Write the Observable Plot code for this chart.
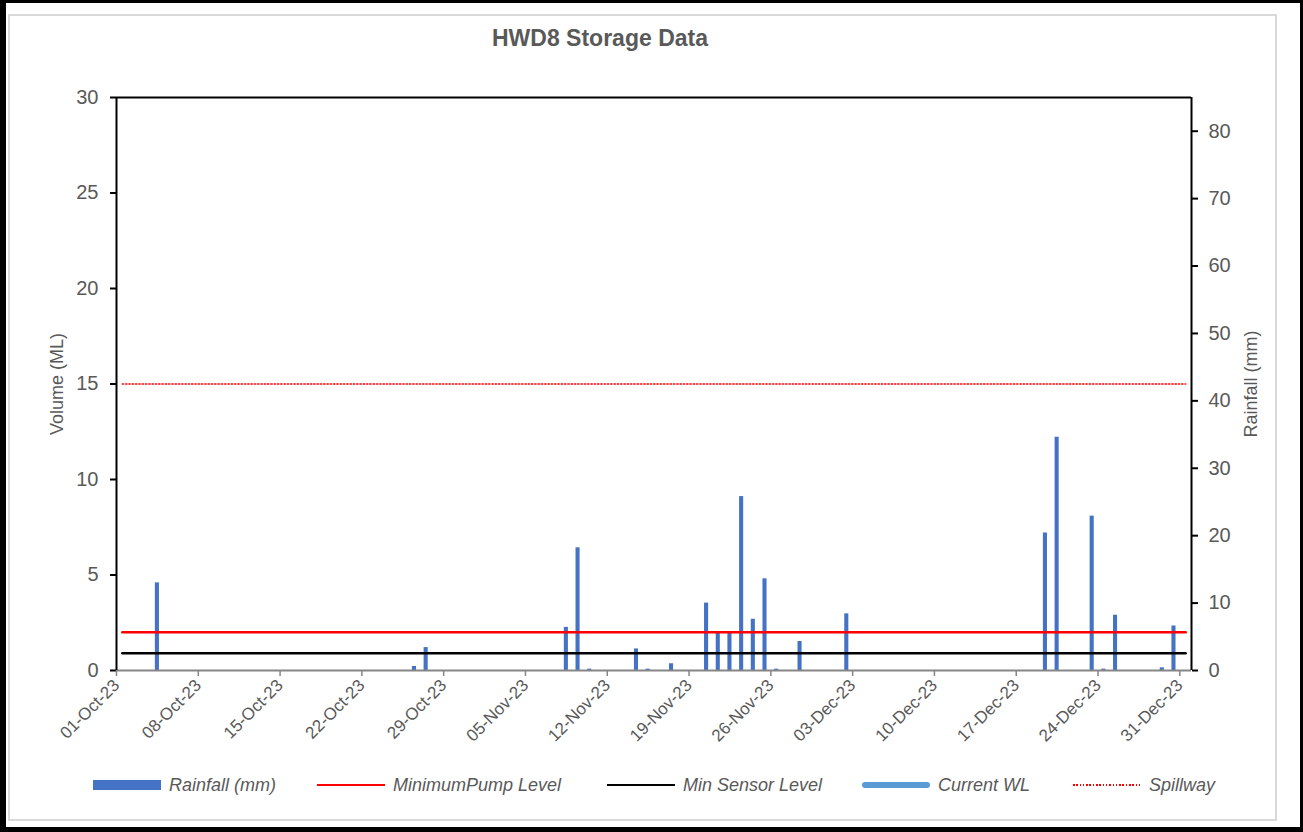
<!DOCTYPE html>
<html>
<head>
<meta charset="utf-8">
<script src="https://cdn.jsdelivr.net/npm/d3@7"></script>
<script src="https://cdn.jsdelivr.net/npm/@observablehq/plot@0.6"></script>
<style>
  html, body { margin: 0; padding: 0; background: #fff; }
  body { width: 1303px; height: 832px; position: relative; overflow: hidden; font-family: "Liberation Sans", Arial, sans-serif; }
  #outer { position: absolute; left: 0; top: 0; width: 1303px; height: 832px; box-sizing: border-box; border-style: solid; border-color: #000; border-width: 3px 3px 5px 6px; }
  #inner { position: absolute; left: 8px; top: 14px; width: 1269px; height: 807px; box-sizing: border-box; border: 2px solid #d9d9d9; }
  #chart { position: absolute; left: 0; top: 0; }
  #title { position: absolute; left: 0; top: 27px; width: 1200px; text-align: center; font-size: 23px; line-height: 23px; font-weight: bold; color: #595959; }
  .ytitle { position: absolute; font-size: 18px; line-height: 18px; color: #595959; white-space: nowrap; transform: translate(-50%, -50%) rotate(-90deg); }
  .leg { position: absolute; top: 776px; height: 18px; font-size: 18px; line-height: 18px; font-style: italic; color: #595959; white-space: nowrap; }
  .sw { position: absolute; top: 785px; }
</style>
</head>
<body>
<div id="outer"></div>
<div id="inner"></div>
<div id="chart"></div>
<div id="title"></div>
<div class="ytitle" id="ylTitle" style="left:57px; top:384px;"></div>
<div class="ytitle" id="yrTitle" style="left:1251px; top:384px;"></div>
<div id="legend"></div>
<script>
// ---------- data ----------
const chartTitle = "HWD8 Storage Data";
const leftAxisTitle = "Volume (ML)";
const rightAxisTitle = "Rainfall (mm)";

const rainDates = ["2023-10-04","2023-10-26","2023-10-27","2023-11-08","2023-11-09","2023-11-10",
  "2023-11-14","2023-11-15","2023-11-17","2023-11-20","2023-11-21","2023-11-22","2023-11-23",
  "2023-11-24","2023-11-25","2023-11-26","2023-11-28","2023-12-02","2023-12-19","2023-12-20",
  "2023-12-23","2023-12-24","2023-12-25","2023-12-29","2023-12-30"];
const rainMm = [13.0,0.6,3.4,6.4,18.2,0.2,
  3.2,0.2,1.0,10.0,5.6,5.6,25.8,
  7.6,13.6,0.2,4.3,8.4,20.4,34.6,
  22.9,0.2,8.2,0.4,6.6];

const levelDates = ["2023-10-01","2023-12-31"];
const minPumpLevel = [2.0, 2.0];
const minSensorLevel = [0.9, 0.9];
const spillwayLevel = [15, 15];

const xDomain = ["2023-10-01","2024-01-01"];
const xTickDates = ["2023-10-01","2023-10-08","2023-10-15","2023-10-22","2023-10-29","2023-11-05",
  "2023-11-12","2023-11-19","2023-11-26","2023-12-03","2023-12-10","2023-12-17","2023-12-24","2023-12-31"];
const volumeTicks = [0,5,10,15,20,25,30];
const rainfallTicks = [0,10,20,30,40,50,60,70,80];
const volumeMax = 30;
const rainfallMax = 85;

const legendLabels = ["Rainfall (mm)","MinimumPump Level","Min Sensor Level","Current WL","Spillway"];

// ---------- build ----------
const parse = d3.utcParse("%Y-%m-%d");
const k = volumeMax / rainfallMax;
const rain = rainDates.map((d, i) => ({date: parse(d), mm: rainMm[i]}));
const levels = levelDates.map((d, i) => ({
  date: d3.utcHour.offset(parse(d), 12),
  pump: minPumpLevel[i], sensor: minSensorLevel[i], spill: spillwayLevel[i]
}));
const xd = xDomain.map(parse);

const plot = Plot.plot({
  width: 1303,
  height: 832,
  marginLeft: 116,
  marginRight: 112,
  marginTop: 97,
  marginBottom: 162,
  style: {fontFamily: "'Liberation Sans', Arial, sans-serif", background: "transparent", overflow: "visible"},
  x: {type: "utc", domain: xd},
  y: {domain: [0, volumeMax]},
  marks: [
    Plot.rect(rain, {
      x1: "date", x2: d => d3.utcDay.offset(d.date, 1),
      y1: 0, y2: d => d.mm * k,
      insetLeft: 3.8, insetRight: 3.8, fill: "#4472C4"
    }),
    Plot.line(levels, {x: "date", y: "spill", stroke: "#FF0000", strokeWidth: 1.5, strokeDasharray: "1.3,2"}),
    Plot.line(levels, {x: "date", y: "sensor", stroke: "#000000", strokeWidth: 2.5}),
    Plot.line(levels, {x: "date", y: "pump", stroke: "#FF0000", strokeWidth: 2.5}),
    // frame
    Plot.ruleY([0], {stroke: "#868686", strokeWidth: 2}),
    Plot.ruleY([volumeMax], {stroke: "#000", strokeWidth: 2}),
    Plot.ruleX(xd, {stroke: "#000", strokeWidth: 2}),
    // axes
    Plot.axisY(volumeTicks, {anchor: "left", tickSize: 6, tickPadding: 12, fontSize: 20,
      stroke: "#000", strokeWidth: 2, fill: "#595959", label: null}),
    Plot.axisY(rainfallTicks.map(v => v * k), {anchor: "right", tickSize: 6, tickPadding: 11, fontSize: 20,
      stroke: "#000", strokeWidth: 2, fill: "#595959", label: null,
      tickFormat: v => String(Math.round(v / k))}),
    Plot.axisX(xTickDates.map(parse), {anchor: "bottom", tickSize: 6, tickPadding: 6, tickRotate: -45,
      fontSize: 17, stroke: "#868686", strokeWidth: 1.5, fill: "#595959", label: null,
      tickFormat: d3.utcFormat("%d-%b-%y")})
  ]
});
document.getElementById("chart").appendChild(plot);
document.getElementById("title").textContent = chartTitle;
document.getElementById("ylTitle").textContent = leftAxisTitle;
document.getElementById("yrTitle").textContent = rightAxisTitle;

// ---------- legend ----------
const legend = document.getElementById("legend");
const legStarts = [93, 317, 607, 862, 1073];
const swatches = [
  {h: 10, color: "#4472C4", radius: 0, dotted: false},
  {h: 2.5, color: "#FF0000", radius: 0, dotted: false},
  {h: 2.5, color: "#000000", radius: 0, dotted: false},
  {h: 6, color: "#5B9BD5", radius: 3, dotted: false},
  {h: 2, color: "#FF0000", radius: 0, dotted: true}
];
legendLabels.forEach((lab, i) => {
  const s = swatches[i];
  const sw = document.createElement("div");
  sw.className = "sw";
  sw.style.left = legStarts[i] + "px";
  sw.style.width = "68px";
  sw.style.height = s.h + "px";
  sw.style.marginTop = (-s.h / 2) + "px";
  sw.style.borderRadius = s.radius + "px";
  if (s.dotted) {
    sw.style.background = "repeating-linear-gradient(90deg, #FF0000 0 1.5px, transparent 1.5px 3.3px)";
  } else {
    sw.style.background = s.color;
  }
  legend.appendChild(sw);
  const t = document.createElement("div");
  t.className = "leg";
  t.style.left = (legStarts[i] + 76) + "px";
  t.textContent = lab;
  legend.appendChild(t);
});
</script>
</body>
</html>
